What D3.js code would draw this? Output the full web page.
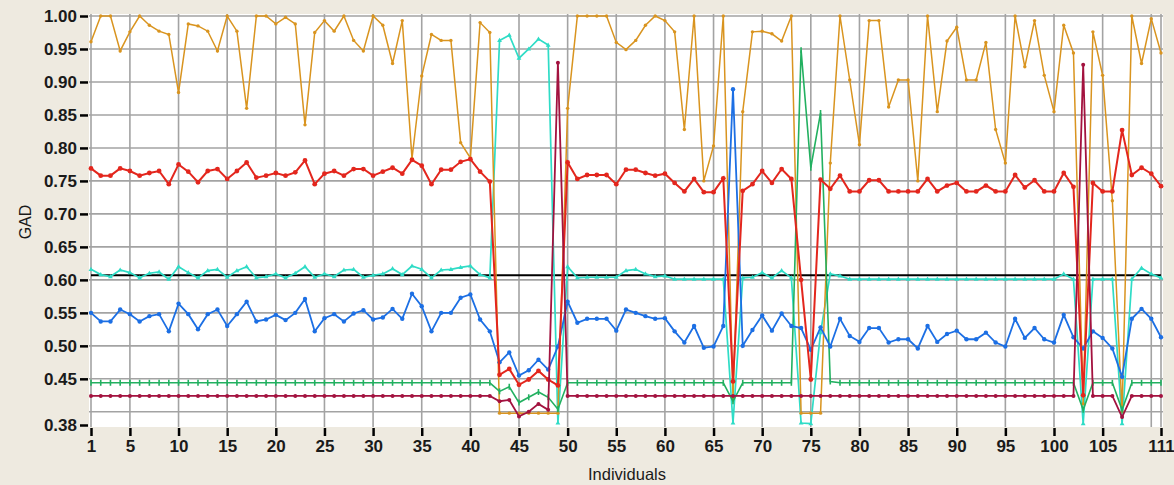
<!DOCTYPE html>
<html>
<head>
<meta charset="utf-8">
<script src="https://cdn.jsdelivr.net/npm/d3@7"></script>
<style>
  body { margin: 0; background: #eeeae0; }
  svg { display: block; }
</style>
</head>
<body>
<svg class="chart"></svg>
<script>
// individuals 1..111
var individuals = d3.range(1, 112);

var orange = [
  0.961,1.00,1.00,0.947,0.976,1.00,0.986,0.977,0.972,0.884,
  0.988,0.985,0.977,0.947,1.00,0.977,0.860,1.00,1.00,0.988,
  0.998,0.988,0.835,0.975,0.993,0.977,1.00,0.963,0.947,1.00,
  0.986,0.928,0.993,0.784,0.909,0.972,0.963,0.963,0.808,0.785,
  0.990,0.975,0.398,0.398,0.398,0.398,0.398,0.398,0.398,0.860,
  1.00,1.00,1.00,1.00,0.960,0.949,0.963,0.986,1.00,0.993,
  0.976,0.828,1.00,0.750,0.803,1.00,0.420,0.855,0.976,0.977,
  0.973,0.962,1.00,0.398,0.398,0.398,0.777,1.00,0.903,0.805,
  0.993,0.993,0.862,0.903,0.903,0.750,1.00,0.855,0.962,0.983,
  0.903,0.903,0.960,0.828,0.777,1.00,0.923,0.993,0.910,0.855,
  0.986,0.944,0.412,0.976,0.910,0.720,0.400,1.00,0.928,0.996,
  0.944
];

var red = [
  0.769,0.758,0.758,0.769,0.765,0.758,0.762,0.765,0.745,0.775,
  0.764,0.748,0.765,0.768,0.753,0.765,0.778,0.755,0.758,0.762,
  0.758,0.763,0.781,0.745,0.761,0.765,0.758,0.768,0.768,0.758,
  0.764,0.770,0.761,0.782,0.773,0.745,0.767,0.767,0.779,0.783,
  0.764,0.749,0.456,0.465,0.441,0.449,0.462,0.449,0.440,0.778,
  0.753,0.759,0.759,0.759,0.745,0.767,0.767,0.762,0.758,0.761,
  0.747,0.734,0.753,0.733,0.733,0.754,0.446,0.735,0.745,0.765,
  0.747,0.768,0.753,0.600,0.449,0.752,0.738,0.758,0.734,0.734,
  0.751,0.751,0.734,0.734,0.734,0.734,0.753,0.734,0.743,0.747,
  0.734,0.734,0.743,0.734,0.734,0.759,0.740,0.751,0.734,0.734,
  0.762,0.741,0.425,0.747,0.734,0.734,0.827,0.759,0.770,0.761,
  0.742
];

var cyan = [
  0.616,0.608,0.605,0.615,0.611,0.603,0.610,0.612,0.601,0.620,
  0.611,0.603,0.614,0.616,0.604,0.614,0.620,0.603,0.605,0.609,
  0.603,0.610,0.620,0.604,0.609,0.605,0.615,0.616,0.604,0.607,
  0.609,0.617,0.608,0.621,0.616,0.603,0.615,0.616,0.619,0.621,
  0.608,0.603,0.963,0.971,0.936,0.950,0.965,0.956,0.383,0.620,
  0.603,0.604,0.604,0.604,0.604,0.614,0.616,0.609,0.605,0.606,
  0.601,0.601,0.601,0.601,0.601,0.601,0.383,0.603,0.604,0.611,
  0.603,0.614,0.603,0.383,0.382,0.520,0.609,0.606,0.601,0.601,
  0.601,0.601,0.601,0.601,0.601,0.601,0.601,0.601,0.601,0.601,
  0.601,0.601,0.601,0.601,0.601,0.601,0.601,0.601,0.601,0.601,
  0.609,0.601,0.382,0.601,0.601,0.601,0.382,0.601,0.618,0.609,
  0.603
];

var blue = [
  0.550,0.537,0.537,0.555,0.548,0.537,0.545,0.548,0.522,0.564,
  0.548,0.525,0.548,0.555,0.530,0.548,0.567,0.537,0.540,0.547,
  0.539,0.550,0.571,0.522,0.542,0.548,0.537,0.549,0.554,0.540,
  0.543,0.556,0.541,0.579,0.560,0.522,0.550,0.550,0.573,0.578,
  0.540,0.522,0.475,0.490,0.455,0.463,0.479,0.464,0.499,0.567,
  0.535,0.541,0.541,0.541,0.523,0.555,0.550,0.545,0.541,0.542,
  0.522,0.505,0.530,0.497,0.499,0.530,0.889,0.500,0.524,0.546,
  0.523,0.549,0.530,0.527,0.494,0.528,0.499,0.541,0.515,0.506,
  0.527,0.527,0.505,0.510,0.510,0.496,0.530,0.506,0.518,0.523,
  0.510,0.510,0.520,0.505,0.499,0.541,0.512,0.527,0.510,0.505,
  0.547,0.513,0.496,0.522,0.512,0.496,0.453,0.541,0.556,0.541,
  0.513
];

var green = [
  0.444,0.444,0.444,0.444,0.444,0.444,0.444,0.444,0.444,0.444,
  0.444,0.444,0.444,0.444,0.444,0.444,0.444,0.444,0.444,0.444,
  0.444,0.444,0.444,0.444,0.444,0.444,0.444,0.444,0.444,0.444,
  0.444,0.444,0.444,0.444,0.444,0.444,0.444,0.444,0.444,0.444,
  0.444,0.444,0.431,0.438,0.414,0.422,0.430,0.422,0.404,0.444,
  0.444,0.444,0.444,0.444,0.444,0.444,0.444,0.444,0.444,0.444,
  0.444,0.444,0.444,0.444,0.444,0.444,0.416,0.444,0.444,0.444,
  0.444,0.444,0.444,0.948,0.770,0.853,0.446,0.444,0.444,0.444,
  0.444,0.444,0.444,0.444,0.444,0.444,0.444,0.444,0.444,0.444,
  0.444,0.444,0.444,0.444,0.444,0.444,0.444,0.444,0.444,0.444,
  0.444,0.444,0.403,0.444,0.444,0.444,0.403,0.444,0.444,0.444,
  0.444
];

var maroon = [
  0.424,0.424,0.424,0.424,0.424,0.424,0.424,0.424,0.424,0.424,
  0.424,0.424,0.424,0.424,0.424,0.424,0.424,0.424,0.424,0.424,
  0.424,0.424,0.424,0.424,0.424,0.424,0.424,0.424,0.424,0.424,
  0.424,0.424,0.424,0.424,0.424,0.424,0.424,0.424,0.424,0.424,
  0.424,0.424,0.416,0.418,0.393,0.400,0.412,0.403,0.929,0.424,
  0.424,0.424,0.424,0.424,0.424,0.424,0.424,0.424,0.424,0.424,
  0.424,0.424,0.424,0.424,0.424,0.424,0.424,0.424,0.424,0.424,
  0.424,0.424,0.424,0.424,0.424,0.424,0.424,0.424,0.424,0.424,
  0.424,0.424,0.424,0.424,0.424,0.424,0.424,0.424,0.424,0.424,
  0.424,0.424,0.424,0.424,0.424,0.424,0.424,0.424,0.424,0.424,
  0.424,0.424,0.926,0.424,0.424,0.424,0.392,0.424,0.424,0.424,
  0.424
];

var threshold = 0.607;

var xTicks = [1,5,10,15,20,25,30,35,40,45,50,55,60,65,70,75,80,85,90,95,100,105,111];
var xGrid = [1,5,10,15,20,25,30,35,40,45,50,55,60,65,70,75,80,85,90,95,100,105,110,111];
var yTicks = [0.38,0.45,0.50,0.55,0.60,0.65,0.70,0.75,0.80,0.85,0.90,0.95,1.00];
var yGrid = [0.40,0.45,0.50,0.55,0.60,0.65,0.70,0.75,0.80,0.85,0.90,0.95,1.00];

var W = 1174, H = 485;
var plot = { left: 89, right: 1163, top: 14, bottom: 427 };

var x = d3.scaleLinear().domain([1, 111]).range([91, 1161]);
var y = d3.scaleLinear().domain([0.38, 1.00]).range([425, 16]);

var svg = d3.select(".chart").attr("width", W).attr("height", H);

svg.append("rect")
    .attr("x", plot.left).attr("y", plot.top)
    .attr("width", plot.right - plot.left).attr("height", plot.bottom - plot.top)
    .attr("fill", "#ffffff");

// grid
svg.append("g").selectAll("line").data(yGrid).enter().append("line")
    .attr("x1", plot.left).attr("x2", plot.right)
    .attr("y1", function (d) { return y(d); }).attr("y2", function (d) { return y(d); })
    .attr("stroke", "#a3a3a3").attr("stroke-width", 1.6);
svg.append("g").selectAll("line").data(xGrid).enter().append("line")
    .attr("y1", plot.top).attr("y2", plot.bottom)
    .attr("x1", function (d) { return x(d); }).attr("x2", function (d) { return x(d); })
    .attr("stroke", "#a3a3a3").attr("stroke-width", 1.6);

// axes
var yAxis = svg.append("g")
    .attr("transform", "translate(" + (plot.left - 1) + ",0)")
    .call(d3.axisLeft(y).tickValues(yTicks).tickFormat(d3.format(".2f")).tickSize(8).tickPadding(3));
var xAxis = svg.append("g")
    .attr("transform", "translate(0," + (plot.bottom + 1) + ")")
    .call(d3.axisBottom(x).tickValues(xTicks).tickFormat(d3.format("d")).tickSize(8).tickPadding(4));

[yAxis, xAxis].forEach(function (a) {
    a.select(".domain").remove();
    a.selectAll(".tick line").attr("stroke", "#000").attr("stroke-width", 2.5);
    a.selectAll(".tick text")
        .attr("fill", "#1a1a1a")
        .style("font-family", "'Liberation Sans', Arial, sans-serif")
        .style("font-size", "17px")
        .style("font-weight", "bold");
});

svg.append("text")
    .attr("transform", "translate(31,222) rotate(-90)")
    .attr("text-anchor", "middle")
    .style("font-family", "'Liberation Sans', Arial, sans-serif")
    .style("font-size", "16px")
    .attr("fill", "#1a1a1a")
    .text("GAD");

svg.append("text")
    .attr("x", 627).attr("y", 480)
    .attr("text-anchor", "middle")
    .style("font-family", "'Liberation Sans', Arial, sans-serif")
    .style("font-size", "16.5px")
    .attr("fill", "#1a1a1a")
    .text("Individuals");

// series
var series = [
    { name: "cyan", values: cyan, color: "#2fdcc6", marker: "tri", w: 1.7 },
    { name: "orange", values: orange, color: "#d9941f", marker: "dot", r: 1.7, w: 1.5 },
    { name: "green", values: green, color: "#22b060", marker: "tick", w: 1.6 },
    { name: "blue", values: blue, color: "#1c6fe4", marker: "dot", r: 2.2, w: 1.8 },
    { name: "red", values: red, color: "#e3261d", marker: "dot", r: 2.4, w: 2 },
    { name: "maroon", values: maroon, color: "#a3123f", marker: "dot", r: 2, w: 1.8 }
];

var line = d3.line()
    .x(function (d, i) { return x(individuals[i]); })
    .y(function (d) { return y(d); });

var plotArea = svg.append("g");

plotArea.append("line")
    .attr("x1", x(1)).attr("x2", x(111))
    .attr("y1", y(threshold)).attr("y2", y(threshold))
    .attr("stroke", "#000").attr("stroke-width", 2);

series.forEach(function (s) {
    var g = plotArea.append("g").attr("class", s.name);
    g.append("path")
        .datum(s.values)
        .attr("d", line)
        .attr("fill", "none")
        .attr("stroke", s.color)
        .attr("stroke-width", s.w);

    var pts = g.selectAll(".pt").data(s.values).enter();
    if (s.marker === "dot") {
        pts.append("circle")
            .attr("cx", function (d, i) { return x(individuals[i]); })
            .attr("cy", function (d) { return y(d); })
            .attr("r", s.r)
            .attr("fill", s.color);
    } else if (s.marker === "tick") {
        pts.append("line")
            .attr("x1", function (d, i) { return x(individuals[i]); })
            .attr("x2", function (d, i) { return x(individuals[i]); })
            .attr("y1", function (d) { return y(d) - 3; })
            .attr("y2", function (d) { return y(d) + 3; })
            .attr("stroke", s.color).attr("stroke-width", 1.6);
    } else {
        pts.append("path")
            .attr("transform", function (d, i) { return "translate(" + x(individuals[i]) + "," + y(d) + ")"; })
            .attr("d", "M0,-2.6L2.4,1.6L-2.4,1.6Z")
            .attr("fill", s.color);
    }
});
</script>
</body>
</html>
